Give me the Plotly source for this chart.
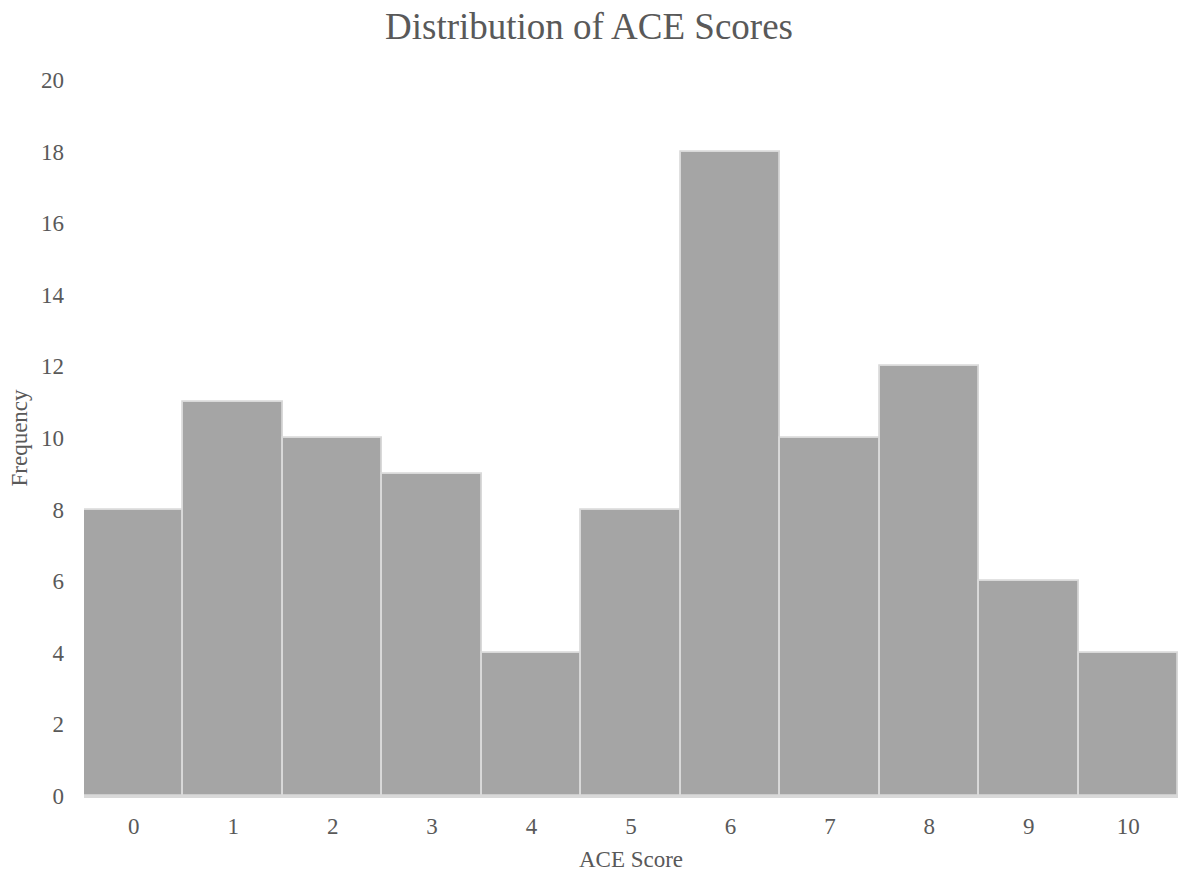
import plotly.graph_objects as go

categories = [0, 1, 2, 3, 4, 5, 6, 7, 8, 9, 10]
frequency = [8, 11, 10, 9, 4, 8, 18, 10, 12, 6, 4]
y_ticks = list(range(0, 21, 2))

font_family = "Liberation Serif, Times New Roman, serif"
text_color = "#595959"

fig = go.Figure(
    go.Bar(
        x=categories,
        y=frequency,
        width=1,
        marker=dict(color="#A5A5A5", line=dict(color="#D9D9D9", width=1.8)),
    )
)

fig.update_layout(
    width=1178,
    height=875,
    paper_bgcolor="white",
    plot_bgcolor="white",
    margin=dict(l=84, r=0, t=80, b=79, autoexpand=False),
    bargap=0,
    showlegend=False,
    font=dict(family=font_family, color=text_color),
    title=dict(
        text="Distribution of ACE Scores",
        x=0.5,
        xref="container",
        xanchor="center",
        y=0.970,
        yanchor="middle",
        automargin=False,
        font=dict(size=37, family=font_family, color=text_color),
    ),
)

fig.update_xaxes(
    range=[-0.5, 10.5],
    tickmode="array",
    tickvals=categories,
    ticktext=[str(c) for c in categories],
    showgrid=False,
    zeroline=False,
    showline=True,
    linecolor="#D9D9D9",
    linewidth=2,
    ticks="",
    automargin=False,
    tickfont=dict(size=23, color=text_color),
    ticklabelstandoff=8,
    title=dict(text="ACE Score", font=dict(size=23, color=text_color), standoff=13),
)

fig.update_yaxes(
    range=[0, 20],
    tickmode="array",
    tickvals=y_ticks,
    showgrid=False,
    zeroline=False,
    showline=False,
    ticks="",
    automargin=False,
    tickfont=dict(size=23, color=text_color),
    ticklabelstandoff=19,
    title=dict(text="Frequency", font=dict(size=23, color=text_color), standoff=6),
)

fig.write_html(
    "out.html",
    config={"displayModeBar": False},
    post_script="document.body.style.margin='0';document.body.style.padding='0';",
)
